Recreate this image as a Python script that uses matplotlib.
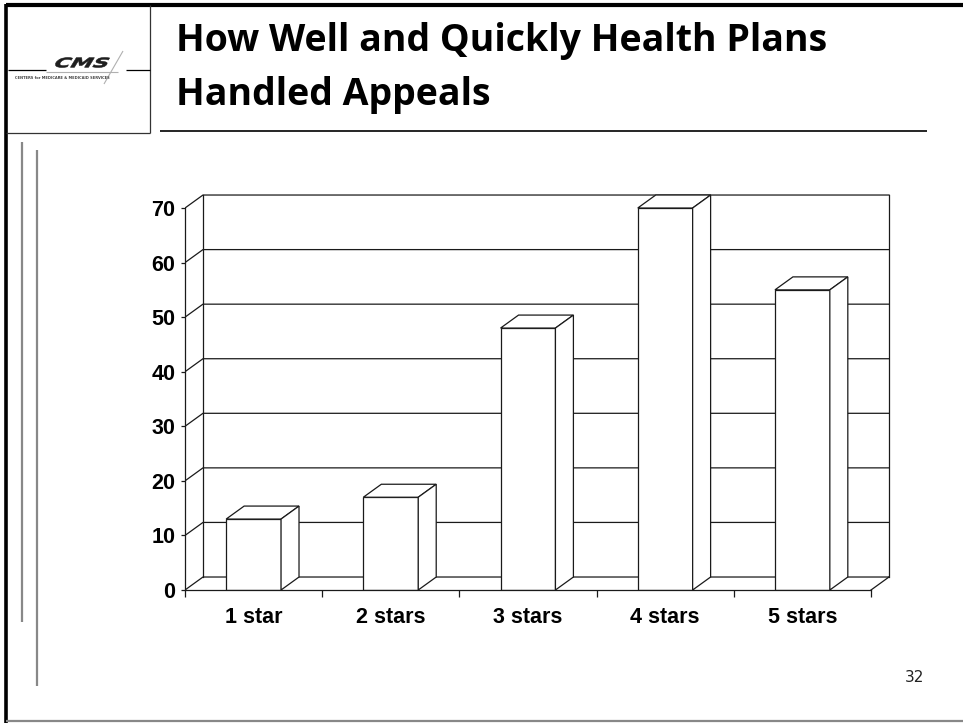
import matplotlib
matplotlib.use("Agg")
import matplotlib.pyplot as plt
from matplotlib.patches import Polygon, PathPatch
from matplotlib.textpath import TextPath
from matplotlib.font_manager import FontProperties
from matplotlib.transforms import Affine2D
import numpy as np

CATS = ["1 star", "2 stars", "3 stars", "4 stars", "5 stars"]
VALUES = [13, 17, 48, 70, 55]
YTICKS = [0, 10, 20, 30, 40, 50, 60, 70]
TITLE = ["How Well and Quickly Health Plans", "Handled Appeals"]
PAGE = "32"
LOGO = "CMS"
LOGO_SUB = "CENTERS for MEDICARE & MEDICAID SERVICES"

W, H = 963, 723
DX, DY = 0.131, 2.38   # depth of the 3-D box, in category / value units
BAR_W = 0.40
INK = "#1a1a1a"
LW = 0.9
TICK_FONT = dict(family="Liberation Sans", weight="bold", size=15.5)

fig = plt.figure(figsize=(W / 100, H / 100), dpi=100)

# ---- slide furniture, drawn on a pixel-space overlay ----
deco = fig.add_axes([0, 0, 1, 1])
deco.set_xlim(0, W); deco.set_ylim(H, 0); deco.axis("off")

def seg(xs, ys, color=INK, lw=1.0):
    deco.plot(xs, ys, color=color, lw=lw, solid_capstyle="butt")

seg([6, W], [5, 5], "black", 3.0)            # slide border
seg([6, 6], [4, H], "black", 2.6)
seg([6, W], [H - 2, H - 2], "#888888", 1.6)
seg([150, 150], [5, 133], "#333333", 0.9)    # logo box
seg([6, 150], [133, 133], "#333333", 0.9)
seg([160, 927], [131, 131], "black", 1.2)    # title rule
seg([8, 46], [70, 70], "black", 0.9)
seg([126, 150], [70, 70], "black", 0.9)
seg([22, 22], [142, 622], "#888888", 1.6)
seg([37, 37], [150, 686], "#888888", 1.6)

# CMS mark: wide, squat slanted letters built from a text path
seg([46, 118], [72, 72], "#b0b0b0", 0.8)
seg([123, 104], [51, 84], "#b0b0b0", 0.8)
tp = TextPath((0, 0), LOGO, size=10,
              prop=FontProperties(family="DejaVu Sans", weight="bold"))
bb = tp.get_extents()
tr = (Affine2D().translate(-bb.x0, -bb.y0)
      .skew_deg(20, 0)
      .scale(58 / (bb.width + bb.height * 0.364), -10 / bb.height).translate(53, 67.5))
deco.add_patch(PathPatch(tr.transform_path(tp), facecolor="#1e1e1e",
                         edgecolor="#1e1e1e", lw=0.4))
deco.text(15, 78, LOGO_SUB, ha="left", va="center", fontsize=2.6,
          fontweight="bold", family="DejaVu Sans", color="#444444")

for k, line in enumerate(TITLE):
    deco.text(176, 51 + 54 * k, line, ha="left", va="baseline", fontsize=27,
              fontweight="bold", family="Open Sans", color="black")

deco.text(915, 677, PAGE, ha="center", va="center", fontsize=11,
          family="DejaVu Sans", color="#222222")

# ---- 3-D column chart ----
ax = fig.add_axes([185 / W, 1 - 590 / H, 710 / W, 400 / H])
ax.set_xlim(-0.5, -0.5 + 710 / 137.2)
ax.set_ylim(0, 400 / 5.457)
ax.patch.set_alpha(0)

x0, x1 = -0.5, len(CATS) - 0.5
top = YTICKS[-1]
# left wall diagonals + back wall gridlines
for v in YTICKS:
    ax.plot([x0, x0 + DX, x1 + DX], [v, v + DY, v + DY], color=INK, lw=LW, zorder=1)
ax.plot([x0 + DX, x0 + DX], [DY, top + DY], color=INK, lw=LW, zorder=1)
ax.plot([x1 + DX, x1 + DX], [DY, top + DY], color=INK, lw=LW, zorder=1)
ax.plot([x1, x1 + DX], [0, DY], color=INK, lw=LW, zorder=1)

xs = np.arange(len(CATS))
ax.bar(xs, VALUES, width=BAR_W, color="white", edgecolor=INK, linewidth=LW, zorder=3)
for x, v in zip(xs, VALUES):
    l, r = x - BAR_W / 2, x + BAR_W / 2
    ax.add_patch(Polygon([(l, v), (r, v), (r + DX, v + DY), (l + DX, v + DY)],
                         closed=True, facecolor="white", edgecolor=INK, lw=LW, zorder=3))
    ax.add_patch(Polygon([(r, 0), (r + DX, DY), (r + DX, v + DY), (r, v)],
                         closed=True, facecolor="white", edgecolor=INK, lw=LW, zorder=3))

for s in ("top", "right"):
    ax.spines[s].set_visible(False)
ax.spines["left"].set_bounds(0, top)
ax.spines["bottom"].set_bounds(x0, x1)
for s in ("left", "bottom"):
    ax.spines[s].set_color(INK); ax.spines[s].set_linewidth(LW); ax.spines[s].set_zorder(4)

ax.set_yticks(YTICKS)
ax.set_yticklabels([str(v) for v in YTICKS], **TICK_FONT)
ax.tick_params(axis="y", length=3, width=LW, color=INK, pad=4)
ax.set_xticks(np.arange(x0, x1 + 0.01, 1.0))
ax.set_xticklabels([])
ax.set_xticks(xs, minor=True)
ax.set_xticklabels(CATS, minor=True, **TICK_FONT)
ax.tick_params(axis="x", which="major", length=5, width=LW, color=INK)
ax.tick_params(axis="x", which="minor", length=0, pad=12.5)

fig.savefig("out.png", dpi=100)
